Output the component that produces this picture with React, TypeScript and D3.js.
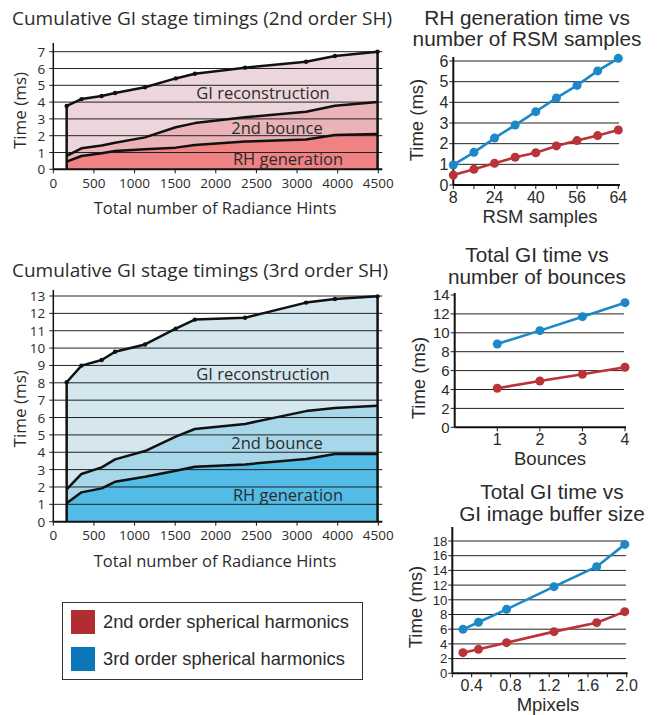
import React from 'react';
import * as d3 from 'd3';

// ---------- data ----------
const rhCounts = [185, 390, 670, 855, 1270, 1695, 1960, 2655, 3500, 3900, 4490];
const rhTickLabels = ['0', '500', '1000', '1500', '2000', '2500', '3000', '4000', '4500'];

const sh2RH = [0.46, 0.79, 0.95, 1.09, 1.19, 1.29, 1.45, 1.65, 1.78, 2.04, 2.1];
const sh2Bounce = [0.8, 1.25, 1.42, 1.58, 1.9, 2.5, 2.75, 3.1, 3.42, 3.78, 4.0];
const sh2Total = [3.77, 4.18, 4.36, 4.54, 4.88, 5.41, 5.69, 6.05, 6.4, 6.74, 7.0];

const sh3RH = [1.06, 1.69, 1.92, 2.3, 2.59, 2.94, 3.17, 3.3, 3.61, 3.9, 3.9];
const sh3Bounce = [1.86, 2.75, 3.13, 3.59, 4.07, 4.9, 5.34, 5.63, 6.37, 6.55, 6.68];
const sh3Total = [8.03, 8.99, 9.31, 9.79, 10.21, 11.12, 11.64, 11.75, 12.62, 12.83, 12.98];

const rsmLabels = ['8', '', '24', '', '40', '', '56', '', '64'];
const rsmSH2 = [0.48, 0.76, 1.05, 1.34, 1.56, 1.89, 2.15, 2.39, 2.66];
const rsmSH3 = [0.97, 1.58, 2.27, 2.9, 3.55, 4.21, 4.82, 5.52, 6.13];

const bounces = [1, 2, 3, 4];
const bounceSH2 = [4.13, 4.9, 5.61, 6.35];
const bounceSH3 = [8.82, 10.23, 11.71, 13.19];

const mpixels = [0.31, 0.47, 0.76, 1.25, 1.69, 1.98];
const bufSH2 = [2.81, 3.26, 4.17, 5.67, 6.89, 8.39];
const bufSH3 = [5.98, 6.94, 8.7, 11.79, 14.5, 17.54];

const legendItems = ['2nd order spherical harmonics', '3rd order spherical harmonics'];

// ---------- style ----------
const FONT_L = "'Open Sans', 'Noto Sans', sans-serif";
const FONT_R = "'Liberation Sans', Arial, sans-serif";
const TXT = '#2b2b2b';
const RED = '#bb3339';
const BLUE = '#1c88c7';
const RED_SW = '#b22d32';
const BLUE_SW = '#0b77b8';

type StackProps = {
  title: string;
  titleY: number;
  y0px: number;
  yTopPx: number;
  yMax: number;
  axisTop: number;
  rh: number[];
  bounce: number[];
  total: number[];
  fills: [string, string, string];
  labelY: [number, number, number];
};

function StackedChart(p: StackProps) {
  const left = 53.3;
  const right = 378.3;
  const x = d3.scaleLinear().domain([0, 4500]).range([left, right]);
  const y = d3.scaleLinear().domain([0, p.yMax]).range([p.y0px, p.yTopPx]);
  const idx = d3.range(rhCounts.length);
  const areaRH = d3.area<number>().x((i) => x(rhCounts[i])).y0(() => y(0)).y1((i) => y(p.rh[i]));
  const areaB = d3.area<number>().x((i) => x(rhCounts[i])).y0((i) => y(p.rh[i])).y1((i) => y(p.bounce[i]));
  const areaT = d3.area<number>().x((i) => x(rhCounts[i])).y0((i) => y(p.bounce[i])).y1((i) => y(p.total[i]));
  const line = (arr: number[]) => d3.line<number>().x((i) => x(rhCounts[i])).y((i) => y(arr[i]))(idx) || '';
  const yTicks = d3.range(0, p.yMax + 1);
  const xLabelPos = rhTickLabels.map((_, i) => x((i * 4500) / (rhTickLabels.length - 1)));
  const first = 0;
  const last = rhCounts.length - 1;
  return (
    <g>
      <text x={12} y={p.titleY} fontFamily={FONT_L} fontSize={19} fill={TXT}>{p.title}</text>
      <path d={areaRH(idx) || ''} fill={p.fills[2]} />
      <path d={areaB(idx) || ''} fill={p.fills[1]} />
      <path d={areaT(idx) || ''} fill={p.fills[0]} />
      {yTicks.filter((t) => t > 0).map((t) => (
        <line key={t} x1={left} x2={right + 4} y1={y(t)} y2={y(t)} stroke="#222" strokeWidth={1} />
      ))}
      {yTicks.map((t) => (
        <g key={'yt' + t}>
          <line x1={left - 4} x2={left} y1={y(t)} y2={y(t)} stroke="#222" strokeWidth={1} />
          <text x={left - 8} y={y(t) + 5} textAnchor="end" fontFamily={FONT_L} fontSize={13.5} fill={TXT}>{t}</text>
        </g>
      ))}
      <line x1={left} x2={left} y1={p.y0px} y2={p.axisTop} stroke="#111" strokeWidth={1.5} />
      <line x1={left} x2={right + 4} y1={p.y0px} y2={p.y0px} stroke="#111" strokeWidth={2} />
      {xLabelPos.map((px, i) => (
        <g key={'xt' + i}>
          <line x1={px} x2={px} y1={p.y0px} y2={p.y0px + 4} stroke="#111" strokeWidth={1} />
          <text x={px} y={p.y0px + 18.5} textAnchor="middle" fontFamily={FONT_L} fontSize={13.5} fill={TXT}>{rhTickLabels[i]}</text>
        </g>
      ))}
      <path d={line(p.rh)} fill="none" stroke="#111" strokeWidth={2.5} strokeLinejoin="round" />
      <path d={line(p.bounce)} fill="none" stroke="#111" strokeWidth={2.5} strokeLinejoin="round" />
      <path d={line(p.total)} fill="none" stroke="#111" strokeWidth={2.5} strokeLinejoin="round" />
      <line x1={x(rhCounts[first])} x2={x(rhCounts[first])} y1={y(0)} y2={y(p.total[first])} stroke="#111" strokeWidth={2.5} />
      <line x1={x(rhCounts[last])} x2={x(rhCounts[last])} y1={y(0)} y2={y(p.total[last])} stroke="#111" strokeWidth={2.5} />
      {idx.map((i) => (
        <circle key={'m' + i} cx={x(rhCounts[i])} cy={y(p.total[i])} r={2.2} fill="#111" />
      ))}
      <text x={263} y={p.labelY[0]} textAnchor="middle" fontFamily={FONT_L} fontSize={16.5} fill={TXT}>GI reconstruction</text>
      <text x={277} y={p.labelY[1]} textAnchor="middle" fontFamily={FONT_L} fontSize={16.5} fill={TXT}>2nd bounce</text>
      <text x={288} y={p.labelY[2]} textAnchor="middle" fontFamily={FONT_L} fontSize={16.5} fill={TXT}>RH generation</text>
      <text transform={`translate(26,${(p.y0px + p.yTopPx) / 2}) rotate(-90)`} textAnchor="middle" fontFamily={FONT_L} fontSize={17} fill={TXT}>Time (ms)</text>
      <text x={215} y={p.y0px + 45} textAnchor="middle" fontFamily={FONT_L} fontSize={16.5} fill={TXT}>Total number of Radiance Hints</text>
    </g>
  );
}

type Series = { xs: number[]; ys: number[]; color: string };
type LineProps = {
  titles: string[];
  titleX: number;
  titleY: number;
  xScale: d3.ScaleLinear<number, number>;
  yScale: d3.ScaleLinear<number, number>;
  yTicks: number[];
  yTickFont: number;
  gridTicks: number[];
  xTicks: number[];
  xLabels: { v: number; t: string }[];
  axisTop: number;
  gridRight: number;
  series: Series[];
  xTitle: string;
  xTitleX: number;
  yTitleY: number;
};

function LineChart(p: LineProps) {
  const x = p.xScale;
  const y = p.yScale;
  const [xl, xr] = x.range();
  const yb = y.range()[0];
  return (
    <g>
      {p.titles.map((t, i) => (
        <text key={t} x={p.titleX} y={p.titleY + i * 21.5} textAnchor="middle" fontFamily={FONT_R} fontSize={20.8} fill={TXT}>{t}</text>
      ))}
      {p.gridTicks.map((t) => (
        <line key={'g' + t} x1={xl} x2={p.gridRight} y1={y(t)} y2={y(t)} stroke="#222" strokeWidth={1} />
      ))}
      {p.yTicks.map((t) => (
        <g key={'y' + t}>
          <line x1={xl - 4} x2={xl} y1={y(t)} y2={y(t)} stroke="#222" strokeWidth={1} />
          <text x={xl - 5} y={y(t) + p.yTickFont * 0.36} textAnchor="end" fontFamily={FONT_R} fontSize={p.yTickFont} fill={TXT}>{t}</text>
        </g>
      ))}
      <line x1={xl} x2={xl} y1={yb} y2={p.axisTop} stroke="#111" strokeWidth={2} />
      <line x1={xl} x2={Math.max(xr, p.gridRight) + 1} y1={yb} y2={yb} stroke="#111" strokeWidth={2} />
      {p.xTicks.map((t, i) => (
        <line key={'xt' + i} x1={x(t)} x2={x(t)} y1={yb} y2={yb + 4} stroke="#111" strokeWidth={1} />
      ))}
      {p.xLabels.map((l, i) => (
        <text key={'xl' + i} x={x(l.v)} y={yb + 17.5} textAnchor="middle" fontFamily={FONT_R} fontSize={16} fill={TXT}>{l.t}</text>
      ))}
      {p.series.map((s, si) => {
        const pts = s.xs.map((v, i) => [x(v), y(s.ys[i])] as [number, number]);
        return (
          <g key={'s' + si}>
            <path d={d3.line()(pts) || ''} fill="none" stroke={s.color} strokeWidth={2.6} />
            {pts.map((pt, i) => (
              <circle key={i} cx={pt[0]} cy={pt[1]} r={4.5} fill={s.color} />
            ))}
          </g>
        );
      })}
      <text x={p.xTitleX} y={yb + 37.5} textAnchor="middle" fontFamily={FONT_R} fontSize={18.5} fill={TXT}>{p.xTitle}</text>
      <text transform={`translate(${xl - 30},${p.yTitleY}) rotate(-90)`} textAnchor="middle" fontFamily={FONT_R} fontSize={18.5} fill={TXT}>Time (ms)</text>
    </g>
  );
}

export default function App() {
  const rsmIdx = d3.range(rsmLabels.length);
  const x1 = d3.scaleLinear().domain([0, rsmLabels.length - 1]).range([453.3, 618.3]);
  const y1 = d3.scaleLinear().domain([0, 6]).range([185, 61]);
  const x2 = d3.scaleLinear().domain([0, 4]).range([454.7, 625]);
  const y2 = d3.scaleLinear().domain([0, 14]).range([427.3, 295]);
  const x3 = d3.scaleLinear().domain([0.2, 2.0]).range([452.3, 626.7]);
  const y3 = d3.scaleLinear().domain([0, 18]).range([673.3, 541]);
  return (
    <svg width={659} height={715} style={{ position: 'absolute', left: 0, top: 0, background: '#fff' }}>
      <rect x={0} y={0} width={659} height={715} fill="#fff" />
      <StackedChart
        title="Cumulative GI stage timings (2nd order SH)"
        titleY={25}
        y0px={169.3}
        yTopPx={51.7}
        yMax={7}
        axisTop={43}
        rh={sh2RH}
        bounce={sh2Bounce}
        total={sh2Total}
        fills={['#ecd6db', '#e9b3b8', '#ef8283']}
        labelY={[99, 134, 165]}
      />
      <StackedChart
        title="Cumulative GI stage timings (3rd order SH)"
        titleY={276.7}
        y0px={521.7}
        yTopPx={296}
        yMax={13}
        axisTop={290}
        rh={sh3RH}
        bounce={sh3Bounce}
        total={sh3Total}
        fills={['#d4e6ee', '#a7d7e8', '#52bce6']}
        labelY={[380, 449, 501]}
      />
      <LineChart
        titles={['RH generation time vs', 'number of RSM samples']}
        titleX={527}
        titleY={24.5}
        xScale={x1}
        yScale={y1}
        yTicks={d3.range(0, 7)}
        yTickFont={16}
        gridTicks={d3.range(1, 7)}
        xTicks={rsmIdx}
        xLabels={rsmIdx.filter((i) => rsmLabels[i] !== '').map((i) => ({ v: i, t: rsmLabels[i] }))}
        axisTop={57}
        gridRight={619}
        series={[
          { xs: rsmIdx, ys: rsmSH2, color: RED },
          { xs: rsmIdx, ys: rsmSH3, color: BLUE },
        ]}
        xTitle="RSM samples"
        xTitleX={540}
        yTitleY={120}
      />
      <LineChart
        titles={['Total GI time vs', 'number of bounces']}
        titleX={537}
        titleY={262}
        xScale={x2}
        yScale={y2}
        yTicks={d3.range(0, 15, 2)}
        yTickFont={15}
        gridTicks={d3.range(2, 13, 2)}
        xTicks={bounces}
        xLabels={bounces.map((b) => ({ v: b, t: String(b) }))}
        axisTop={293}
        gridRight={624}
        series={[
          { xs: bounces, ys: bounceSH2, color: RED },
          { xs: bounces, ys: bounceSH3, color: BLUE },
        ]}
        xTitle="Bounces"
        xTitleX={550}
        yTitleY={378}
      />
      <LineChart
        titles={['Total GI time vs', 'GI image buffer size']}
        titleX={552}
        titleY={499}
        xScale={x3}
        yScale={y3}
        yTicks={d3.range(0, 19, 2)}
        yTickFont={13.2}
        gridTicks={d3.range(2, 19, 2)}
        xTicks={d3.range(2, 21, 2).map((v) => v / 10)}
        xLabels={[4, 8, 12, 16, 20].map((v) => ({ v: v / 10, t: (v / 10).toFixed(1) }))}
        axisTop={527}
        gridRight={626}
        series={[
          { xs: mpixels, ys: bufSH2, color: RED },
          { xs: mpixels, ys: bufSH3, color: BLUE },
        ]}
        xTitle="Mpixels"
        xTitleX={548}
        yTitleY={607}
      />
      <g>
        <rect x={62.5} y={602.5} width={300} height={77} fill="#fff" stroke="#333" strokeWidth={1} />
        {legendItems.map((t, i) => (
          <g key={t}>
            <rect x={71} y={610 + i * 37} width={24} height={24} fill={i === 0 ? RED_SW : BLUE_SW} />
            <text x={103} y={628 + i * 37} fontFamily={FONT_R} fontSize={18.3} fill={TXT}>{t}</text>
          </g>
        ))}
      </g>
    </svg>
  );
}
